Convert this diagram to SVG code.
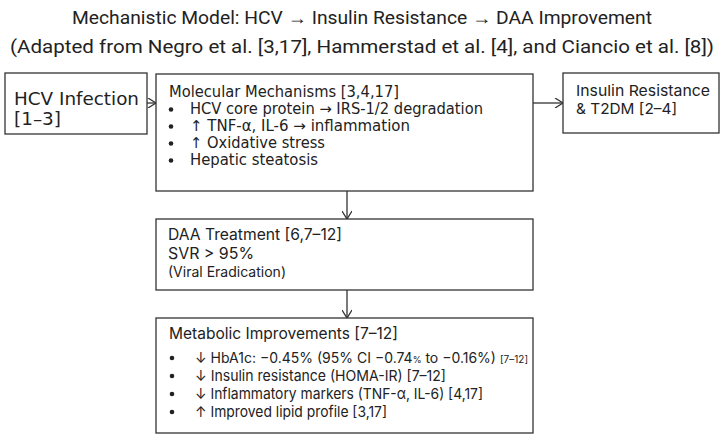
<svg xmlns="http://www.w3.org/2000/svg" width="724" height="439" viewBox="0 0 724 439">
<defs>
<style>
.box{fill:#fff;stroke:#333;stroke-width:1.3}
.dv{font-family:"DejaVu Sans",sans-serif;fill:#222}
.it{font-family:Inter,"Liberation Sans",sans-serif;fill:#222}
.tt{font-family:Roboto,"Liberation Sans",sans-serif;fill:#222}
.con{stroke:#333;stroke-width:1.3;fill:none}
.dot{fill:#222}
</style>
<marker id="ah" viewBox="0 0 10 10" refX="10" refY="5" markerWidth="10" markerHeight="10" markerUnits="userSpaceOnUse" orient="auto">
<path d="M2,0 L10,5 L2,10" fill="none" stroke="#333" stroke-width="1.3"/>
</marker>
</defs>
<rect width="724" height="439" fill="#fff"/>
<g id="title">
<text class="tt" x="362" y="24" font-size="18" text-anchor="middle" textLength="580" lengthAdjust="spacingAndGlyphs">Mechanistic Model: HCV → Insulin Resistance → DAA Improvement</text>
<text class="tt" x="362" y="53" font-size="19" text-anchor="middle" textLength="704" lengthAdjust="spacingAndGlyphs">(Adapted from Negro et al. [3,17], Hammerstad et al. [4], and Ciancio et al. [8])</text>
</g>
<g id="connectors">
<line class="con" x1="147" y1="103" x2="156" y2="103" marker-end="url(#ah)"/>
<line class="con" x1="533" y1="103" x2="563" y2="103" marker-end="url(#ah)"/>
<line class="con" x1="347" y1="191" x2="347" y2="219" marker-end="url(#ah)"/>
<line class="con" x1="347" y1="290" x2="347" y2="318" marker-end="url(#ah)"/>
</g>
<g id="hcv">
<rect class="box" x="5" y="73" width="142" height="61"/>
<text class="dv" x="14" y="104.5" font-size="18.5" textLength="125" lengthAdjust="spacingAndGlyphs">HCV Infection</text>
<text class="dv" x="14" y="125" font-size="18.5" textLength="47" lengthAdjust="spacingAndGlyphs">[1–3]</text>
</g>
<g id="molecular">
<rect class="box" x="156" y="74" width="377" height="117"/>
<text class="dv" x="169" y="97" font-size="15.5" textLength="230" lengthAdjust="spacingAndGlyphs">Molecular Mechanisms [3,4,17]</text>
<circle class="dot" cx="171" cy="109.5" r="2.3"/>
<circle class="dot" cx="171" cy="126.5" r="2.3"/>
<circle class="dot" cx="171" cy="143.5" r="2.3"/>
<circle class="dot" cx="171" cy="160.5" r="2.3"/>
<text class="dv" x="190" y="114.3" font-size="15" textLength="293" lengthAdjust="spacingAndGlyphs">HCV core protein → IRS-1/2 degradation</text>
<text class="dv" x="190" y="131.3" font-size="15" textLength="220" lengthAdjust="spacingAndGlyphs">↑ TNF-α, IL-6 → inflammation</text>
<text class="dv" x="190" y="148.3" font-size="15" textLength="135" lengthAdjust="spacingAndGlyphs">↑ Oxidative stress</text>
<text class="dv" x="190" y="165.3" font-size="15" textLength="128" lengthAdjust="spacingAndGlyphs">Hepatic steatosis</text>
</g>
<g id="insulin">
<rect class="box" x="563" y="73" width="156" height="60"/>
<text class="it" x="576" y="96" font-size="15" textLength="134" lengthAdjust="spacingAndGlyphs">Insulin Resistance</text>
<text class="it" x="576" y="114" font-size="15" textLength="101" lengthAdjust="spacingAndGlyphs">&amp; T2DM [2–4]</text>
</g>
<g id="daa">
<rect class="box" x="156" y="219" width="377" height="71"/>
<text class="it" x="168" y="240" font-size="16" textLength="174" lengthAdjust="spacingAndGlyphs">DAA Treatment [6,7–12]</text>
<text class="it" x="168" y="259" font-size="16" textLength="86" lengthAdjust="spacingAndGlyphs">SVR &gt; 95%</text>
<text class="it" x="168" y="277" font-size="14" textLength="118" lengthAdjust="spacingAndGlyphs">(Viral Eradication)</text>
</g>
<g id="metabolic">
<rect class="box" x="156" y="318" width="377" height="115"/>
<text class="it" x="169" y="339" font-size="16" textLength="229" lengthAdjust="spacingAndGlyphs">Metabolic Improvements [7–12]</text>
<circle class="dot" cx="172" cy="358" r="2.3"/>
<circle class="dot" cx="172" cy="376" r="2.3"/>
<circle class="dot" cx="172" cy="394" r="2.3"/>
<circle class="dot" cx="172" cy="412" r="2.3"/>
<text class="it" x="195" y="363" font-size="14">↓ HbA1c: −0.45% (95% CI −0.74<tspan font-size="9">%</tspan> to −0.16%) <tspan font-size="10">[7–12]</tspan></text>
<text class="it" x="195" y="381" font-size="14.8" textLength="251" lengthAdjust="spacingAndGlyphs">↓ Insulin resistance (HOMA-IR) [7–12]</text>
<text class="it" x="195" y="399" font-size="14.8" textLength="288" lengthAdjust="spacingAndGlyphs">↓ Inflammatory markers (TNF-α, IL-6) [4,17]</text>
<text class="it" x="195" y="417" font-size="14.8" textLength="192" lengthAdjust="spacingAndGlyphs">↑ Improved lipid profile [3,17]</text>
</g>
</svg>
